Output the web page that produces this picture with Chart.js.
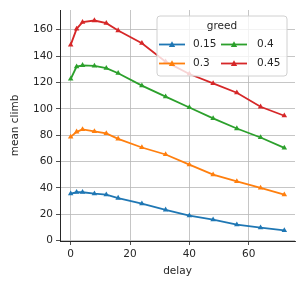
<!DOCTYPE html>
<html>
<head>
<meta charset="utf-8">
<script src="https://cdn.jsdelivr.net/npm/chart.js@4.4.1/dist/chart.umd.min.js"></script>
<style>
  html, body { margin: 0; padding: 0; background: #fff; }
  #wrap { width: 302px; height: 292px; }
</style>
</head>
<body>
<div id="wrap"><canvas id="climbChart"></canvas></div>
<script>
// данные
const delays = [0, 2, 4, 8, 12, 16, 24, 32, 40, 48, 56, 64, 72];
const greedLevels = ['0.15', '0.3', '0.4', '0.45'];
const climb015 = [35.5, 36.6, 36.6, 35.5, 34.8, 32.2, 27.9, 23.3, 18.8, 15.8, 12.0, 9.7, 7.6];
const climb030 = [78.7, 82.5, 84.3, 82.8, 81.3, 77.2, 70.6, 65.3, 57.6, 50.0, 44.9, 39.9, 34.8];
const climb040 = [122.6, 132.0, 133.0, 132.5, 130.8, 127.0, 117.6, 109.2, 101.0, 92.7, 85.0, 78.2, 70.3];
const climb045 = [148.5, 160.7, 165.8, 167.0, 165.0, 159.4, 149.8, 135.8, 126.4, 119.3, 112.2, 101.5, 94.7];
const xTicks = [0, 20, 40, 60];
const yTicks = [0, 20, 40, 60, 80, 100, 120, 140, 160];

const colors = ['#1f77b4', '#ff7f0e', '#2ca02c', '#d62728'];
const series = [climb015, climb030, climb040, climb045];
const FONT = 'DejaVu Sans';
const FSIZE = 10.5;

// Легенда в стиле matplotlib: две колонки, заполнение по столбцам
const greedLegend = {
    id: 'greedLegend',
    afterDatasetsDraw(chart) {
        const ctx = chart.ctx;
        const x0 = 157, y0 = 16, w = 130, h = 60;
        ctx.save();
        ctx.beginPath();
        ctx.roundRect(x0, y0, w, h, 3);
        ctx.fillStyle = 'rgba(255,255,255,0.8)';
        ctx.fill();
        ctx.strokeStyle = '#d0d0d0';
        ctx.lineWidth = 1;
        ctx.stroke();

        ctx.fillStyle = '#262626';
        ctx.font = FSIZE + 'px "' + FONT + '"';
        ctx.textAlign = 'center';
        ctx.textBaseline = 'middle';
        ctx.fillText('greed', 222, 26);

        const cols = [{ lx: 159, tx: 193 }, { lx: 221, tx: 257 }];
        const rows = [44.5, 63.5];
        chart.data.datasets.forEach((ds, i) => {
            const c = cols[Math.floor(i / 2)];
            const y = rows[i % 2];
            ctx.strokeStyle = ds.borderColor;
            ctx.lineWidth = 1.8;
            ctx.beginPath();
            ctx.moveTo(c.lx, y);
            ctx.lineTo(c.lx + 26, y);
            ctx.stroke();
            ctx.fillStyle = ds.borderColor;
            const mx = c.lx + 13, r = 3.2;
            ctx.beginPath();
            ctx.moveTo(mx, y - r);
            ctx.lineTo(mx + r, y + r * 0.8);
            ctx.lineTo(mx - r, y + r * 0.8);
            ctx.closePath();
            ctx.fill();
            ctx.fillStyle = '#262626';
            ctx.textAlign = 'left';
            ctx.fillText(ds.label, c.tx, y);
        });
        ctx.restore();
    }
};

function createClimbChart() {
    const ctx = document.getElementById('climbChart');
    new Chart(ctx, {
        type: 'line',
        data: {
            datasets: series.map((vals, i) => ({
                label: greedLevels[i],
                data: delays.map((d, j) => ({ x: d, y: vals[j] })),
                borderColor: colors[i],
                backgroundColor: colors[i],
                borderWidth: 1.8,
                pointStyle: 'triangle',
                pointRadius: 3.2,
                pointBorderWidth: 0,
                tension: 0,
                fill: false
            }))
        },
        options: {
            responsive: true,
            maintainAspectRatio: false,
            animation: false,
            layout: { padding: { left: 9, right: 7, top: 10, bottom: 14 } },
            plugins: {
                legend: { display: false },
                tooltip: { enabled: false }
            },
            scales: {
                x: {
                    type: 'linear',
                    min: -3.6,
                    max: 75.6,
                    afterBuildTicks: s => { s.ticks = xTicks.map(v => ({ value: v })); },
                    afterFit: s => { s.height = 37; },
                    grid: {
                        color: '#b8b8b8',
                        lineWidth: 0.8,
                        borderDash: [2.5, 2.5],
                        tickBorderDash: [4, 0],
                        tickColor: '#262626',
                        tickLength: 4
                    },
                    border: { display: true, color: '#262626', width: 1 },
                    ticks: {
                        color: '#262626',
                        font: { family: FONT, size: FSIZE },
                        padding: 3,
                        maxRotation: 0
                    },
                    title: {
                        display: true,
                        text: 'delay',
                        color: '#262626',
                        font: { family: FONT, size: FSIZE },
                        padding: { top: 4, bottom: 0 }
                    }
                },
                y: {
                    type: 'linear',
                    min: -0.4,
                    max: 175,
                    afterBuildTicks: s => { s.ticks = yTicks.map(v => ({ value: v })); },
                    afterFit: s => { s.width = 51; },
                    grid: {
                        color: '#b8b8b8',
                        lineWidth: 0.8,
                        borderDash: [2.5, 2.5],
                        tickBorderDash: [4, 0],
                        tickColor: '#262626',
                        tickLength: 4
                    },
                    border: { display: true, color: '#262626', width: 1 },
                    ticks: {
                        color: '#262626',
                        font: { family: FONT, size: FSIZE },
                        padding: 3
                    },
                    title: {
                        display: true,
                        text: 'mean climb',
                        color: '#262626',
                        font: { family: FONT, size: FSIZE },
                        padding: { top: 0, bottom: 4 }
                    }
                }
            }
        },
        plugins: [greedLegend]
    });
}

createClimbChart();
</script>
</body>
</html>
